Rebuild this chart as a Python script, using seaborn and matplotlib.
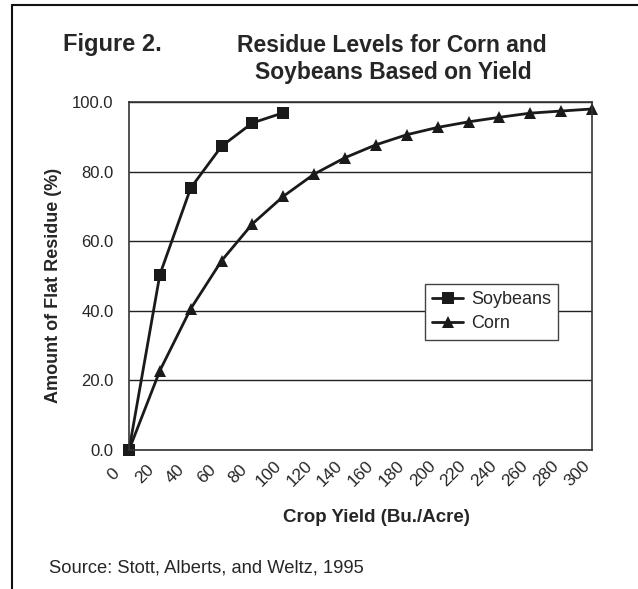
import pandas as pd
import matplotlib.pyplot as plt
import matplotlib.transforms as mtransforms
import seaborn as sns
from matplotlib.lines import Line2D

sns.set_style('white')
plt.rcParams['font.family'] = ['Liberation Sans', 'DejaVu Sans']

# Data
soy_yield = [0, 20, 40, 60, 80, 100]
soy_residue = [0.0, 50.4, 75.3, 87.3, 94.0, 96.9]

corn_yield = [0, 20, 40, 60, 80, 100, 120, 140, 160, 180, 200, 220, 240, 260, 280, 300]
corn_residue = [0.0, 22.8, 40.6, 54.4, 65.0, 72.9, 79.3, 84.0, 87.7, 90.6, 92.7, 94.3, 95.6, 96.8, 97.4, 98.0]

y_ticks = [0, 20, 40, 60, 80, 100]
x_ticks = list(range(0, 301, 20))

soy = pd.DataFrame({'Yield': soy_yield, 'Residue': soy_residue})
corn = pd.DataFrame({'Yield': corn_yield, 'Residue': corn_residue})

fig = plt.figure(figsize=(6.38, 5.89), dpi=100)
ax = fig.add_axes([129 / 638, 1 - 450 / 589, (592 - 129) / 638, (450 - 102) / 589])

sns.lineplot(x='Yield', y='Residue', data=soy, ax=ax, color='#1a1a1a', lw=2,
             marker='s', markersize=8, markeredgewidth=0, clip_on=False)
sns.lineplot(x='Yield', y='Residue', data=corn, ax=ax, color='#1a1a1a', lw=2,
             marker='^', markersize=9, markeredgewidth=0, clip_on=False)

ax.set_xlim(0, 300)
ax.set_ylim(0, 100)
ax.set_yticks(y_ticks)
ax.set_yticklabels([f'{v:.1f}' for v in y_ticks], fontsize=12)
ax.set_xticks(x_ticks)
ax.set_xticklabels([])
# rotated labels sit left of and below each tick, as in the original
offset = mtransforms.ScaledTranslation(-15 / 100, -24 / 100, fig.dpi_scale_trans)
for v in x_ticks:
    ax.text(v, 0, str(v), transform=ax.get_xaxis_transform() + offset, rotation=45,
            ha='center', va='center', rotation_mode='anchor', fontsize=12.5)
ax.tick_params(axis='x', direction='in', length=5, width=1, color='#333333', pad=0)
ax.tick_params(axis='y', direction='out', length=7, width=1, color='#333333', pad=4)
ax.yaxis.grid(True, color='#222222', lw=1)
ax.set_axisbelow(True)
for s in ax.spines.values():
    s.set_color('#333333')
    s.set_linewidth(1.2)
ax.set_xlabel('')
ax.set_ylabel('Amount of Flat Residue (%)', fontsize=13, fontweight='bold')
ax.yaxis.set_label_coords((62 - 129) / 463, (450 - 285) / 348)

handles = [Line2D([], [], color='#1a1a1a', lw=2, marker='s', markersize=8, markeredgewidth=0),
           Line2D([], [], color='#1a1a1a', lw=2, marker='^', markersize=9, markeredgewidth=0)]
leg = ax.legend(handles, ['Soybeans', 'Corn'], loc='upper left',
                bbox_to_anchor=((425 - 129) / 463, (450 - 284) / 348), borderaxespad=0,
                fontsize=13, frameon=True, fancybox=False, edgecolor='#444444',
                handlelength=1.7, borderpad=0.4, labelspacing=0.4, handletextpad=0.45)
leg.get_frame().set_linewidth(1)
leg.get_frame().set_alpha(1)

fig.text(376 / 638, 1 - 518 / 589, 'Crop Yield (Bu./Acre)', ha='center', va='center',
         fontsize=13.5, fontweight='bold')
fig.text(63 / 638, 1 - 45 / 589, 'Figure 2.', ha='left', va='center', fontsize=17, fontweight='bold')
fig.text(392 / 638, 1 - 45 / 589, 'Residue Levels for Corn and', ha='center', va='center',
         fontsize=16.5, fontweight='bold')
fig.text(393 / 638, 1 - 73 / 589, 'Soybeans Based on Yield', ha='center', va='center',
         fontsize=16.5, fontweight='bold')
fig.text(49 / 638, 1 - 568 / 589, 'Source: Stott, Alberts, and Weltz, 1995', ha='left', va='center',
         fontsize=13.2)

# frame lines around the figure
fig.add_artist(Line2D([12 / 638, 12 / 638], [0, 1 - 5 / 589], transform=fig.transFigure, color='#111111', lw=1.5))
fig.add_artist(Line2D([12 / 638, 1], [1 - 5 / 589, 1 - 5 / 589], transform=fig.transFigure, color='#111111', lw=1.5))

fig.savefig('out.png', dpi=100)
